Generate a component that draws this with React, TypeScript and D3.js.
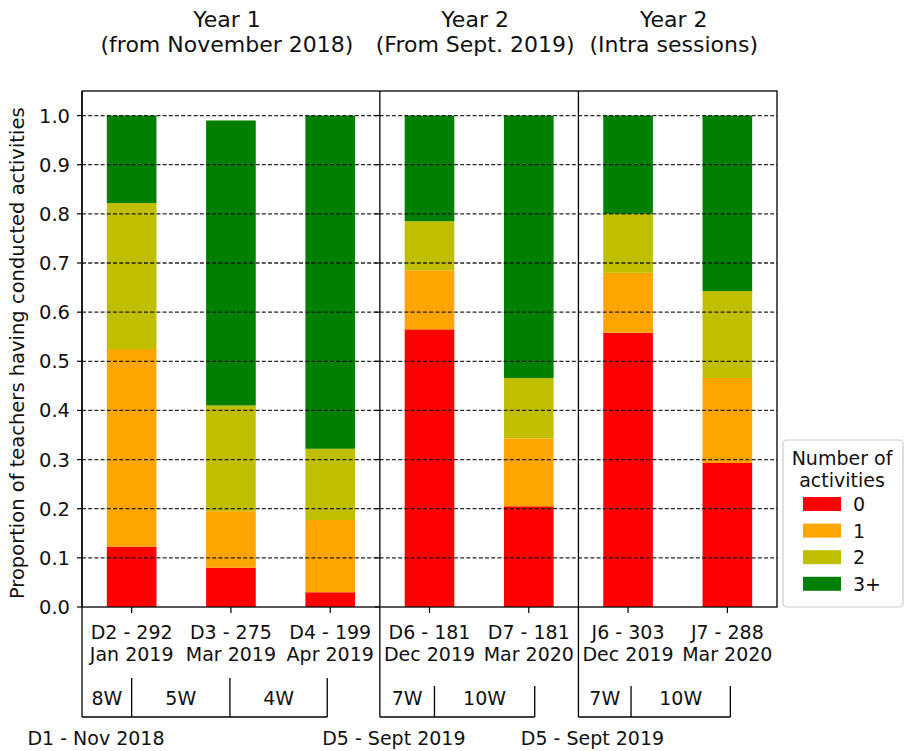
import * as d3 from "d3";

// sessions (x axis), two label lines each
const sessionCodes = ["D2 - 292", "D3 - 275", "D4 - 199", "D6 - 181", "D7 - 181", "J6 - 303", "J7 - 288"];
const sessionDates = ["Jan 2019", "Mar 2019", "Apr 2019", "Dec 2019", "Mar 2020", "Dec 2019", "Mar 2020"];

// proportion of teachers by number of activities
const activityLevels = ["0", "1", "2", "3+"];
const share0 = [0.123, 0.08, 0.03, 0.565, 0.205, 0.558, 0.293];
const share1 = [0.402, 0.115, 0.147, 0.12, 0.138, 0.122, 0.173];
const share2 = [0.297, 0.215, 0.145, 0.1, 0.123, 0.12, 0.177];
const share3 = [0.178, 0.58, 0.678, 0.215, 0.534, 0.2, 0.357];
const levelColors = ["#ff0000", "#ffa500", "#bfbf00", "#008000"];

const yTicks = [0, 0.1, 0.2, 0.3, 0.4, 0.5, 0.6, 0.7, 0.8, 0.9, 1.0];

// the three panels
const panelTitles = [
  ["Year 1", "(from November 2018)"],
  ["Year 2", "(From Sept. 2019)"],
  ["Year 2", "(Intra sessions)"],
];
const panelBounds = [
  [-0.5, 2.5],
  [2.5, 4.5],
  [4.5, 6.5],
];
const panelStarts = ["D1 - Nov 2018", "D5 - Sept 2019", "D5 - Sept 2019"];
// timeline brackets under the axis (in session units) and the gaps between them
const bracketMarks = [
  [-0.5, 0, 0.99, 1.97],
  [2.5, 3.05, 4.06],
  [4.5, 5.03, 6.03],
];
const weekGaps = [
  ["8W", "5W", "4W"],
  ["7W", "10W"],
  ["7W", "10W"],
];

const W = 905;
const H = 751;
const margin = { left: 82, right: 128, top: 91, bottom: 144 };
const font = "DejaVu Sans";

export default function App() {
  const x = d3.scaleLinear().domain([-0.5, 6.5]).range([margin.left, W - margin.right]);
  const y = d3.scaleLinear().domain([0, 1.05]).range([H - margin.bottom, margin.top]);
  const barW = x(0.25) - x(-0.25);

  const rows = sessionCodes.map((c, i) => ({
    code: c,
    i,
    "0": share0[i],
    "1": share1[i],
    "2": share2[i],
    "3+": share3[i],
  }));
  const series = d3.stack<any>().keys(activityLevels)(rows);

  const x0 = x(-0.5);
  const x1 = x(6.5);
  const yBase = y(0);
  const yTop = y(1.05);
  const bracketY = 717;

  return (
    <svg
      width={W}
      height={H}
      style={{ position: "absolute", left: 0, top: 0, background: "#fff" }}
      fontFamily={font}
    >
      {/* bars */}
      {series.map((s, k) => (
        <g key={s.key} fill={levelColors[k]}>
          {s.map((d, i) => (
            <rect
              key={i}
              x={x(i) - barW / 2}
              y={y(d[1])}
              width={barW}
              height={y(d[0]) - y(d[1])}
            />
          ))}
        </g>
      ))}

      {/* dashed grid, drawn over the bars */}
      {yTicks.slice(1).map((t) => (
        <line
          key={t}
          x1={x0}
          x2={x1}
          y1={y(t)}
          y2={y(t)}
          stroke="#111"
          strokeWidth={1.3}
          strokeDasharray="4,2.2"
          opacity={0.9}
        />
      ))}

      {/* y ticks + labels */}
      {yTicks.map((t) => (
        <g key={t}>
          <line x1={x0 - 5} x2={x0} y1={y(t)} y2={y(t)} stroke="#000" strokeWidth={1.2} />
          <line x1={x(2.5) - 5} x2={x(2.5)} y1={y(t)} y2={y(t)} stroke="#000" strokeWidth={1.2} />
          <text x={x0 - 12} y={y(t) + 7} textAnchor="end" fontSize={19.5} fill="#111">
            {t.toFixed(1)}
          </text>
        </g>
      ))}
      <text
        transform={`translate(24,${(y(0) + y(1.0)) / 2 - 8}) rotate(-90)`}
        textAnchor="middle"
        fontSize={19.5}
        fill="#111"
      >
        Proportion of teachers having conducted activities
      </text>

      {/* x ticks + labels */}
      {sessionCodes.map((c, i) => (
        <g key={c + i}>
          <line x1={x(i)} x2={x(i)} y1={yBase} y2={yBase + 6} stroke="#000" strokeWidth={1.2} />
          <text x={x(i)} y={639} textAnchor="middle" fontSize={19} fill="#111">
            {c}
          </text>
          <text x={x(i)} y={661} textAnchor="middle" fontSize={19} fill="#111">
            {sessionDates[i]}
          </text>
        </g>
      ))}

      {/* frame */}
      <rect x={x0} y={yTop} width={x1 - x0} height={yBase - yTop} fill="none" stroke="#000" strokeWidth={1.3} />
      {panelBounds.map(([a], p) => (
        <line key={p} x1={x(a)} x2={x(a)} y1={yTop} y2={bracketY} stroke="#000" strokeWidth={1.3} />
      ))}

      {/* panel titles */}
      {panelTitles.map((lines, p) => {
        const cx = (x(panelBounds[p][0]) + x(panelBounds[p][1])) / 2 - 4;
        return (
          <g key={p}>
            <text x={cx} y={27} textAnchor="middle" fontSize={22} fill="#111">
              {lines[0]}
            </text>
            <text x={cx} y={52} textAnchor="middle" fontSize={22} fill="#111">
              {lines[1]}
            </text>
          </g>
        );
      })}

      {/* timeline brackets */}
      {bracketMarks.map((marks, p) => {
        const top = p === 0 ? 678 : 686;
        return (
          <g key={p}>
            <line
              x1={x(marks[0])}
              x2={x(marks[marks.length - 1])}
              y1={bracketY}
              y2={bracketY}
              stroke="#000"
              strokeWidth={1.3}
            />
            {marks.slice(1).map((m) => (
              <line key={m} x1={x(m)} x2={x(m)} y1={top} y2={bracketY} stroke="#000" strokeWidth={1.3} />
            ))}
            {weekGaps[p].map((w, j) => (
              <text
                key={j}
                x={(x(marks[j]) + x(marks[j + 1])) / 2}
                y={705}
                textAnchor="middle"
                fontSize={19}
                fill="#111"
              >
                {w}
              </text>
            ))}
            <text x={x(marks[0]) + 14} y={745} textAnchor="middle" fontSize={19} fill="#111">
              {panelStarts[p]}
            </text>
          </g>
        );
      })}

      {/* legend */}
      <g>
        <rect x={783} y={440} width={120} height={167} rx={4} fill="#fff" stroke="#ccc" strokeWidth={1.2} />
        <text x={842} y={465} textAnchor="middle" fontSize={19} fill="#111">
          Number of
        </text>
        <text x={842} y={487} textAnchor="middle" fontSize={19} fill="#111">
          activities
        </text>
        {activityLevels.map((lv, k) => {
          const cy = 504 + k * 26.6;
          return (
            <g key={lv}>
              <rect x={803} y={cy - 7} width={38} height={14} fill={levelColors[k]} />
              <text x={853} y={cy + 7} fontSize={19} fill="#111">
                {lv}
              </text>
            </g>
          );
        })}
      </g>
    </svg>
  );
}
